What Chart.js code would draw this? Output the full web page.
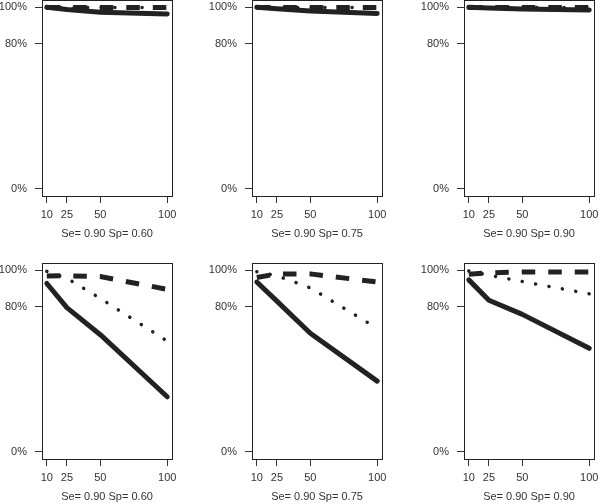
<!DOCTYPE html>
<html>
<head>
<meta charset="utf-8">
<script src="https://cdn.jsdelivr.net/npm/chart.js@4"></script>
<style>
  body { margin: 0; background: #fff; }
  #wrap { position: relative; width: 600px; height: 504px; }
  .panel { position: absolute; width: 200px; height: 252px; }
</style>
</head>
<body>
<div id="wrap"></div>
<script>
const sampleSizes = [10, 25, 50, 100];
const xTicks = [10, 25, 50, 100];
const yTicks = [0, 80, 100];
const panelTitles = ['Se= 0.90 Sp= 0.60', 'Se= 0.90 Sp= 0.75', 'Se= 0.90 Sp= 0.90'];

// upper row
const topSolid = [[100, 98.8, 97.3, 96.3], [100, 99.2, 98.0, 96.6], [100, 99.6, 99.1, 98.5]];
const topDashed = [[99.8, 99.8, 99.8, 99.8], [99.8, 99.8, 99.8, 99.8], [99.8, 99.8, 99.8, 99.8]];
const topDotted = [[99.9, 99.9, 99.9, 99.9], [99.9, 99.9, 99.9, 99.9], [99.9, 99.9, 99.9, 99.9]];

// lower row
const bottomSolid = [[92.7, 79.4, 64.5, 30.3], [93.5, 83.0, 65.3, 38.9], [94.7, 83.5, 75.7, 57.0]];
const bottomDashed = [[96.8, 97.0, 96.5, 89.5], [96.0, 98.0, 98.0, 93.5], [97.8, 98.6, 99.0, 99.0]];
const bottomDotted = [[99.4, 95.6, 84.5, 61.0], [99.2, 97.0, 90.3, 68.0], [99.6, 97.3, 93.8, 87.0]];

const ink = '#222';
const textCol = '#333';
const leftWidth = [42, 52, 64];
const rightPad = [28, 18, 6];

// frame round the plot area, like R's box()
const boxPlugin = {
    id: 'box',
    afterDatasetsDraw(chart) {
        const a = chart.chartArea;
        const c = chart.ctx;
        c.save();
        c.strokeStyle = ink;
        c.lineWidth = 1;
        c.strokeRect(Math.round(a.left) + 0.5, Math.round(a.top) + 0.5,
            Math.round(a.right - a.left), Math.round(a.bottom - a.top));
        c.restore();
    }
};

function pts(vals) {
    return sampleSizes.map((x, i) => ({ x: x, y: vals[i] }));
}

function drawPanel(row, col, solid, dashed, dotted) {
    const div = document.createElement('div');
    div.className = 'panel';
    div.style.left = (col * 200) + 'px';
    div.style.top = (row * 252) + 'px';
    const cv = document.createElement('canvas');
    cv.width = 200;
    cv.height = 252;
    div.appendChild(cv);
    document.getElementById('wrap').appendChild(div);

    new Chart(cv.getContext('2d'), {
        type: 'line',
        data: {
            datasets: [
                { data: pts(solid), borderColor: ink, borderWidth: 5, borderCapStyle: 'round', borderJoinStyle: 'round' },
                { data: pts(dashed), borderColor: ink, borderWidth: 5, borderDash: [13.5, 13], borderCapStyle: 'butt' },
                { data: pts(dotted), borderColor: ink, borderWidth: 3.5, borderDash: [0.1, 13.5], borderCapStyle: 'round' }
            ]
        },
        options: {
            responsive: false,
            animation: false,
            elements: { point: { radius: 0 }, line: { tension: 0, fill: false } },
            layout: { padding: { top: row === 0 ? 0 : 11, right: rightPad[col], bottom: row === 0 ? 11.8 : 0.8, left: 0 } },
            plugins: {
                legend: { display: false },
                tooltip: { enabled: false },
                title: {
                    display: true,
                    position: 'bottom',
                    fullSize: false,
                    text: panelTitles[col],
                    color: textCol,
                    font: { family: 'Liberation Sans, Arial, sans-serif', size: 11, weight: 'normal' },
                    padding: { top: 3, bottom: 0 }
                }
            },
            scales: {
                x: {
                    type: 'linear',
                    min: 6.4,
                    max: 103.6,
                    afterBuildTicks: s => { s.ticks = xTicks.map(v => ({ value: v })); },
                    afterFit: s => { s.height = 28; s.paddingLeft = 0; s.paddingRight = 0; },
                    grid: { drawOnChartArea: false, drawTicks: true, tickLength: 7, color: textCol },
                    border: { display: false },
                    ticks: {
                        color: textCol, padding: 5, maxRotation: 0, autoSkip: false,
                        font: { family: 'Liberation Sans, Arial, sans-serif', size: 11 }
                    }
                },
                y: {
                    min: -4,
                    max: 104,
                    afterBuildTicks: s => { s.ticks = yTicks.map(v => ({ value: v })); },
                    afterFit: s => { s.width = leftWidth[col]; s.paddingTop = 0; s.paddingBottom = 0; },
                    grid: { drawOnChartArea: false, drawTicks: true, tickLength: 7, color: textCol },
                    border: { display: false },
                    ticks: {
                        color: textCol, padding: 8, autoSkip: false,
                        font: { family: 'Liberation Sans, Arial, sans-serif', size: 11 },
                        callback: v => v + '%'
                    }
                }
            }
        },
        plugins: [boxPlugin]
    });
}

for (let c = 0; c < 3; c++) {
    drawPanel(0, c, topSolid[c], topDashed[c], topDotted[c]);
    drawPanel(1, c, bottomSolid[c], bottomDashed[c], bottomDotted[c]);
}
</script>
</body>
</html>
